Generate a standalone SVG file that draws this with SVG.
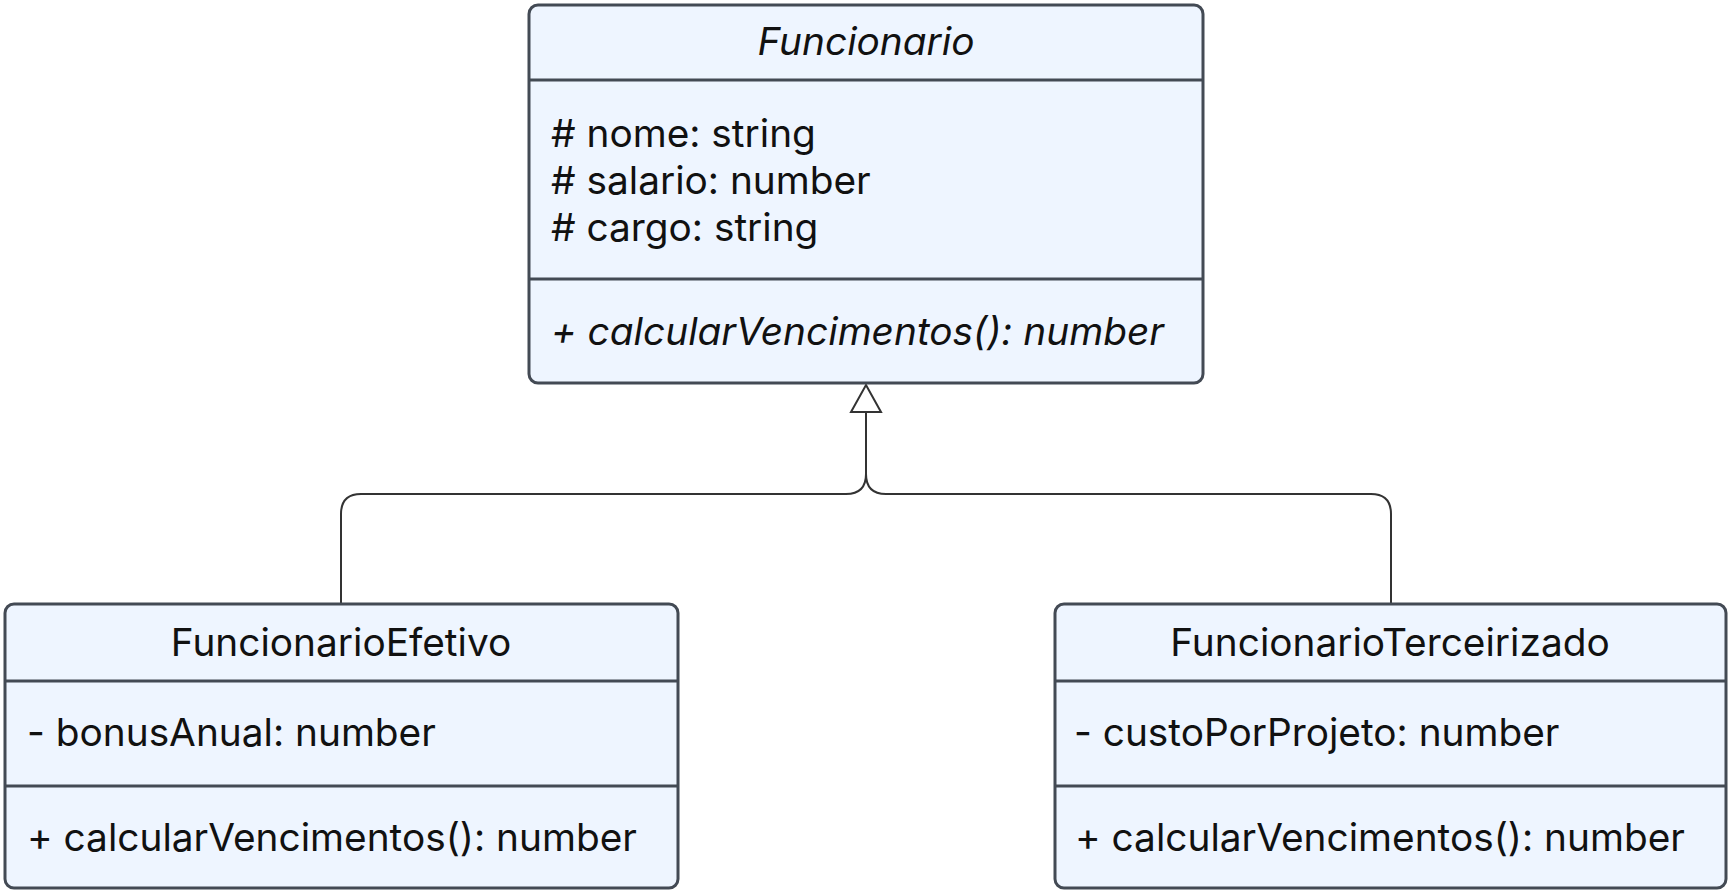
<svg xmlns="http://www.w3.org/2000/svg" width="1729" height="891" viewBox="0 0 1729 891">
<style>
.box{fill:#EEF5FF;stroke:#434A54;stroke-width:3}
.div{stroke:#434A54;stroke-width:3}
text{font-family:Inter,"Noto Sans",sans-serif;font-size:38.8px;fill:#111}
.c{text-anchor:middle}
.i{font-style:italic}
.edge{fill:none;stroke:#333;stroke-width:2}
</style>
<g id="connectors">
<path class="edge" d="M341,603 V514 Q341,494 361,494 H846 Q866,494 866,474 V413"/>
<path class="edge" d="M1391,603 V514 Q1391,494 1371,494 H886 Q866,494 866,474 V413"/>
<path d="M866,385 L881,412 L851,412 Z" fill="#fff" stroke="#333" stroke-width="2"/>
</g>
<g id="Funcionario">
<rect class="box" x="529" y="5" width="674" height="378" rx="9"/>
<line class="div" x1="529" y1="80" x2="1203" y2="80"/>
<line class="div" x1="529" y1="279" x2="1203" y2="279"/>
<text class="c i" x="866" y="55">Funcionario</text>
<text x="551" y="147">#&#160;nome: string</text>
<text x="551" y="194">#&#160;salario: number</text>
<text x="551" y="241">#&#160;cargo: string</text>
<text class="i" x="551" y="345">+ calcularVencimentos(): number</text>
</g>
<g id="FuncionarioEfetivo">
<rect class="box" x="5" y="604" width="673" height="284" rx="9"/>
<line class="div" x1="5" y1="681" x2="678" y2="681"/>
<line class="div" x1="5" y1="786" x2="678" y2="786"/>
<text class="c" x="341" y="656">FuncionarioEfetivo</text>
<text x="27" y="746">- bonusAnual: number</text>
<text x="27" y="851">+ calcularVencimentos(): number</text>
</g>
<g id="FuncionarioTerceirizado">
<rect class="box" x="1055" y="604" width="671" height="284" rx="9"/>
<line class="div" x1="1055" y1="681" x2="1726" y2="681"/>
<line class="div" x1="1055" y1="786" x2="1726" y2="786"/>
<text class="c" x="1390" y="656">FuncionarioTerceirizado</text>
<text x="1074" y="746">- custoPorProjeto: number</text>
<text x="1075" y="851">+ calcularVencimentos(): number</text>
</g>
</svg>
